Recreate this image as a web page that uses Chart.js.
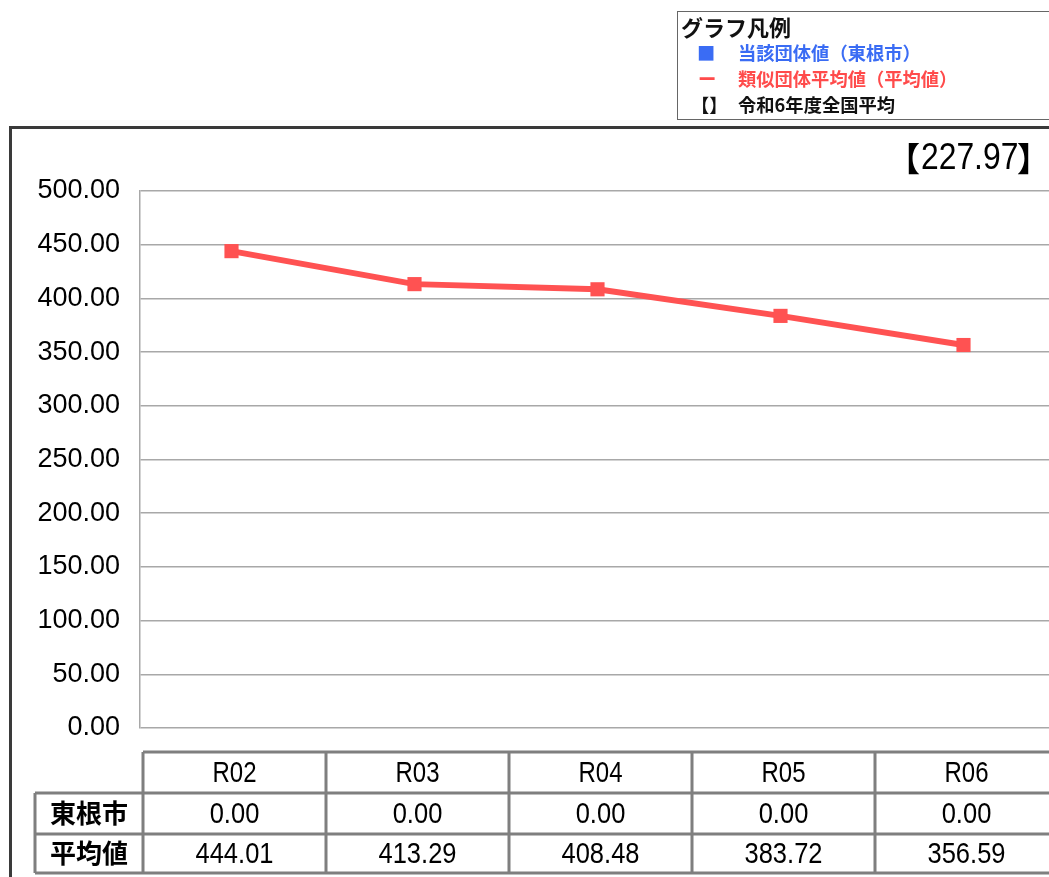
<!DOCTYPE html>
<html><head><meta charset="utf-8">
<script src="https://cdn.jsdelivr.net/npm/chart.js@4/dist/chart.umd.min.js"></script>
<style>
html,body{margin:0;padding:0;background:#fff;overflow:hidden;}
#wrap{position:absolute;left:0;top:0;width:1060px;height:877px;}
#c{display:block;}
.frameTop{position:absolute;left:9px;top:126px;width:1100px;height:3px;background:#3a3a3a;}
.frameLeft{position:absolute;left:9px;top:126px;width:3px;height:800px;background:#3a3a3a;}
#legend{position:absolute;left:677px;top:11px;width:500px;height:107px;border:1px solid #666;font-family:"Noto Sans CJK JP",sans-serif;font-weight:bold;}
#legend .t{position:absolute;left:3px;top:0px;font-size:22px;line-height:28px;color:#111;}
#legend .r{position:absolute;font-size:18.3px;line-height:24px;white-space:nowrap;}
.nat{position:absolute;white-space:nowrap;color:#000;}
#natd{left:921px;top:133px;font-family:"Liberation Sans",sans-serif;font-size:37px;line-height:48px;transform:scaleX(0.86);transform-origin:left center;}
.natb{top:133px;font-family:"Noto Sans CJK JP",sans-serif;font-weight:bold;font-size:33px;line-height:48px;}
</style></head>
<body>
<div id="wrap"><canvas id="c" width="1060" height="877"></canvas></div>
<div class="frameTop"></div><div class="frameLeft"></div>
<div id="legend">
  <div class="t">グラフ凡例</div>
  <div class="r" style="left:19px;top:28px;color:#3a6cf4;">■</div>
  <div class="r" style="left:60px;top:28px;color:#3a6cf4;">当該団体値（東根市）</div>
  <div class="r" style="left:20px;top:54px;color:#ff4b4b;">ー</div>
  <div class="r" style="left:60px;top:54px;color:#ff4b4b;">類似団体平均値（平均値）</div>
  <div class="r" style="left:13px;top:80px;color:#111;">【】</div>
  <div class="r" style="left:60px;top:80px;color:#111;">令和6年度全国平均</div>
</div>
<div class="nat natb" style="left:887px;">【</div>
<div class="nat" id="natd">227.97</div>
<div class="nat natb" style="left:1017px;">】</div>
<script>
const categories = ['R02','R03','R04','R05','R06'];
const cityValues = [0.00, 0.00, 0.00, 0.00, 0.00];
const avgValues = [444.01, 413.29, 408.48, 383.72, 356.59];
const rowLabels = ['東根市','平均値'];
const yMin = 0, yMax = 500, yStep = 50;
const nationalAvg = 227.97;

const NUMFONT = '"Liberation Sans", sans-serif';
const CJKFONT = '"Noto Sans CJK JP", sans-serif';

function narrowText(ctx, text, x, y, sx) {
  ctx.save();
  ctx.translate(x, y);
  ctx.scale(sx, 1);
  ctx.fillText(text, 0, 0);
  ctx.restore();
}

const tablePlugin = {
  id: 'dataTable',
  afterDraw(chart) {
    const ctx = chart.ctx;
    const x = chart.scales.x;
    const n = categories.length;
    const step = x.getPixelForValue(1) - x.getPixelForValue(0);
    const left0 = x.getPixelForValue(0) - step / 2 + 3;
    const right = x.getPixelForValue(n - 1) + step / 2 + 3;
    const labelLeft = 35;
    const rows = [752, 793, 834, 873];
    ctx.save();
    ctx.strokeStyle = '#7f7f7f';
    ctx.lineWidth = 3;
    ctx.beginPath();
    ctx.moveTo(left0, rows[0]); ctx.lineTo(right, rows[0]);
    for (let r = 1; r < rows.length; r++) { ctx.moveTo(labelLeft, rows[r]); ctx.lineTo(right, rows[r]); }
    ctx.moveTo(labelLeft, rows[1]); ctx.lineTo(labelLeft, rows[3]);
    for (let i = 0; i <= n; i++) {
      const xx = left0 + i * step;
      ctx.moveTo(xx, rows[0]); ctx.lineTo(xx, rows[3]);
    }
    ctx.stroke();
    ctx.fillStyle = '#000';
    ctx.textAlign = 'center';
    ctx.textBaseline = 'middle';
    ctx.font = '30px ' + NUMFONT;
    for (let i = 0; i < n; i++) {
      const cx = x.getPixelForValue(i) + 3;
      narrowText(ctx, categories[i], cx, (rows[0] + rows[1]) / 2 + 1, 0.8);
      narrowText(ctx, cityValues[i].toFixed(2), cx, (rows[1] + rows[2]) / 2 + 1, 0.85);
      narrowText(ctx, avgValues[i].toFixed(2), cx, (rows[2] + rows[3]) / 2 + 1, 0.85);
    }
    ctx.font = 'bold 26px ' + CJKFONT;
    ctx.fillText(rowLabels[0], (labelLeft + left0) / 2, (rows[1] + rows[2]) / 2);
    ctx.fillText(rowLabels[1], (labelLeft + left0) / 2, (rows[2] + rows[3]) / 2);
    ctx.restore();
  }
};

new Chart(document.getElementById('c'), {
  data: {
    labels: categories,
    datasets: [
      { type: 'bar', label: '当該団体値（東根市）', data: cityValues, backgroundColor: '#3a6cf4', borderWidth: 0 },
      { type: 'line', label: '類似団体平均値（平均値）', data: avgValues, borderColor: '#ff5252', backgroundColor: '#ff5252',
        borderWidth: 6, pointStyle: 'rect', pointRadius: 10, pointHoverRadius: 10, pointBorderWidth: 0, tension: 0 }
    ]
  },
  plugins: [tablePlugin],
  options: {
    responsive: false,
    maintainAspectRatio: false,
    animation: false,
    layout: { autoPadding: false, padding: { top: 191, bottom: 149, left: 0, right: 5 } },
    plugins: { legend: { display: false }, tooltip: { enabled: false }, title: { display: false } },
    scales: {
      x: { display: false, offset: true },
      y: {
        min: yMin, max: yMax,
        afterFit(s) { s.width = 140; },
        ticks: { stepSize: yStep, padding: 20, color: '#000', font: { family: NUMFONT, size: 27 },
          callback: v => Number(v).toFixed(2) },
        grid: { color: '#a8a8a8', lineWidth: 1.5, drawTicks: false },
        border: { display: true, color: '#a8a8a8', width: 1.5 }
      }
    }
  }
});
</script>
</body></html>
